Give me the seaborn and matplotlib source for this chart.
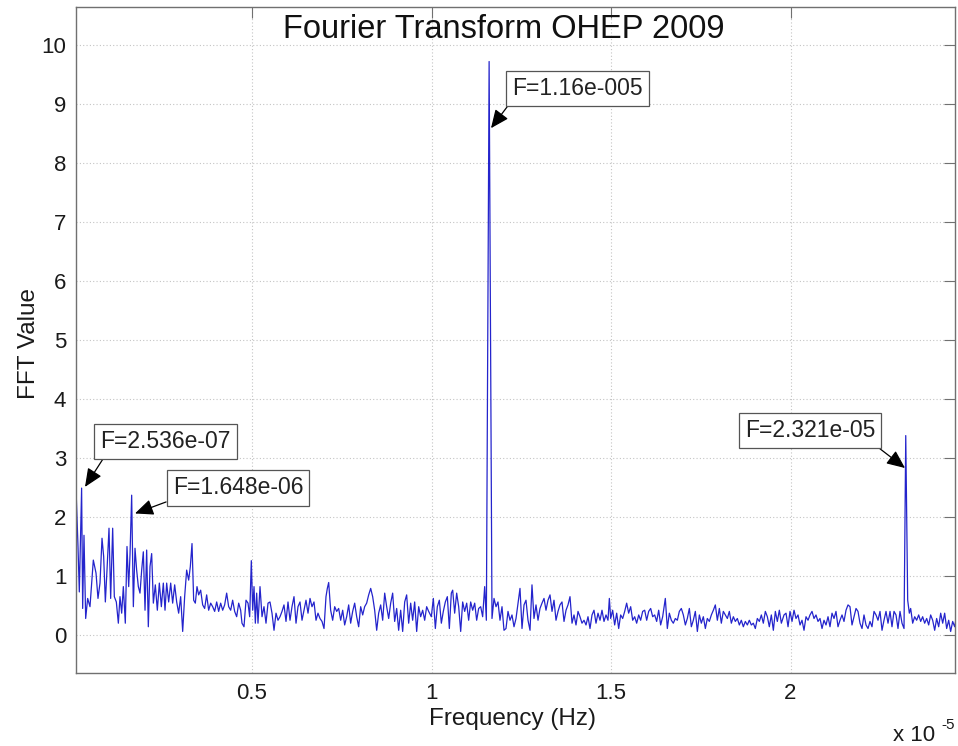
import matplotlib
matplotlib.use("Agg")
import matplotlib.pyplot as plt
import numpy as np
import pandas as pd
import seaborn as sns

# ---------------- data (frequency in units of 1e-5 Hz, FFT magnitude) ----------------
seg1_freq = [0.0097, 0.0153, 0.0190, 0.0254, 0.0283, 0.0320, 0.0367, 0.0422, 0.0487, 0.0580,
             0.0655, 0.0710, 0.0766, 0.0822, 0.0868, 0.0915, 0.0961, 0.1017, 0.1063, 0.1119,
             0.1165, 0.1221, 0.1277, 0.1323, 0.1370, 0.1416, 0.1471, 0.1518, 0.1565, 0.1602,
             0.1648, 0.1695, 0.1741, 0.1787, 0.1834, 0.1880, 0.1927, 0.1973, 0.2020, 0.2066,
             0.2112, 0.2159, 0.2205, 0.2252, 0.2307, 0.2363, 0.2419, 0.2475, 0.2530, 0.2577,
             0.2623, 0.2679, 0.2735, 0.2790, 0.2846, 0.2902, 0.2957, 0.3013, 0.3069, 0.3124,
             0.3180, 0.3236, 0.3282, 0.3329, 0.3375, 0.3421, 0.3468, 0.3514, 0.3570, 0.3626,
             0.3681, 0.3737, 0.3793, 0.3849, 0.3904, 0.3960, 0.4016, 0.4071, 0.4127, 0.4183,
             0.4238, 0.4294, 0.4350, 0.4406, 0.4461, 0.4517, 0.4573, 0.4629, 0.4684, 0.4721,
             0.4777, 0.4833]
seg1_fft = [2.50, 1.50, 0.73, 2.49, 0.45, 1.69, 0.28, 0.62, 0.48, 1.27,
            1.05, 0.62, 0.88, 1.64, 1.33, 0.56, 1.10, 1.81, 0.62, 1.81,
            0.65, 0.56, 0.20, 0.65, 0.37, 0.82, 0.20, 1.50, 0.82, 1.36,
            2.37, 0.48, 1.47, 1.10, 0.82, 0.71, 1.10, 1.41, 0.42, 1.44,
            0.14, 1.16, 1.38, 0.54, 0.85, 0.42, 0.88, 0.48, 0.88, 0.42,
            0.88, 0.56, 0.88, 0.54, 0.85, 0.56, 0.37, 0.65, 0.06, 0.65,
            1.10, 0.93, 1.16, 1.55, 0.59, 0.54, 0.82, 0.68, 0.76, 0.51,
            0.45, 0.68, 0.42, 0.54, 0.48, 0.40, 0.56, 0.40, 0.54, 0.42,
            0.51, 0.71, 0.48, 0.42, 0.59, 0.40, 0.31, 0.54, 0.42, 0.20,
            0.14, 0.59]

seg2_freq = [0.4889, 0.4935, 0.4981, 0.5019, 0.5056, 0.5093, 0.5130, 0.5167, 0.5223, 0.5279,
             0.5334, 0.5390, 0.5446, 0.5501, 0.5557, 0.5613, 0.5669, 0.5724, 0.5780, 0.5836,
             0.5891, 0.5947, 0.6003, 0.6059, 0.6114, 0.6170, 0.6226, 0.6281, 0.6337, 0.6393,
             0.6449, 0.6504, 0.6560, 0.6616, 0.6671, 0.6727, 0.6783, 0.6838, 0.6894, 0.6950,
             0.7006, 0.7061, 0.7098, 0.7136, 0.7191, 0.7247, 0.7303, 0.7359, 0.7414, 0.7470,
             0.7526, 0.7581, 0.7637, 0.7693, 0.7748, 0.7804, 0.7860, 0.7916, 0.7971, 0.8027,
             0.8083, 0.8138, 0.8194, 0.8250, 0.8306, 0.8361, 0.8417, 0.8473, 0.8528, 0.8584,
             0.8640, 0.8696, 0.8751, 0.8807, 0.8863, 0.8918, 0.8974, 0.9030, 0.9085, 0.9141,
             0.9197, 0.9253, 0.9308, 0.9364, 0.9420, 0.9475, 0.9531, 0.9587, 0.9643, 0.9698,
             0.9754, 0.9810, 0.9865, 0.9921]
seg2_fft = [0.54, 0.31, 1.26, 0.42, 0.82, 0.20, 0.71, 0.20, 0.82, 0.31,
            0.48, 0.20, 0.54, 0.56, 0.37, 0.08, 0.37, 0.25, 0.31, 0.40,
            0.51, 0.23, 0.56, 0.25, 0.48, 0.65, 0.20, 0.48, 0.56, 0.25,
            0.42, 0.59, 0.37, 0.62, 0.48, 0.56, 0.25, 0.37, 0.28, 0.23,
            0.11, 0.65, 0.79, 0.89, 0.42, 0.25, 0.48, 0.40, 0.45, 0.25,
            0.42, 0.17, 0.31, 0.51, 0.20, 0.40, 0.54, 0.31, 0.14, 0.48,
            0.34, 0.48, 0.54, 0.68, 0.79, 0.65, 0.42, 0.08, 0.37, 0.51,
            0.25, 0.71, 0.48, 0.28, 0.54, 0.71, 0.23, 0.45, 0.08, 0.42,
            0.06, 0.56, 0.68, 0.20, 0.54, 0.25, 0.56, 0.06, 0.48, 0.31,
            0.42, 0.25, 0.48, 0.40]

seg3_freq = [0.9995, 1.0051, 1.0107, 1.0162, 1.0218, 1.0274, 1.0329, 1.0385, 1.0441, 1.0497,
             1.0552, 1.0590, 1.0645, 1.0701, 1.0757, 1.0813, 1.0868, 1.0924, 1.0980, 1.1035,
             1.1091, 1.1147, 1.1203, 1.1258, 1.1314, 1.1370, 1.1425, 1.1481, 1.1528, 1.1605,
             1.1685, 1.1741, 1.1797, 1.1852, 1.1908, 1.1964, 1.2019, 1.2075, 1.2131, 1.2187,
             1.2242, 1.2298, 1.2354, 1.2409, 1.2465, 1.2521, 1.2577, 1.2632, 1.2688, 1.2744,
             1.2799, 1.2855, 1.2911, 1.2967, 1.3022, 1.3078, 1.3134, 1.3189, 1.3245, 1.3301,
             1.3357, 1.3412, 1.3468, 1.3524, 1.3579, 1.3635, 1.3691, 1.3747, 1.3802, 1.3858,
             1.3914, 1.3969, 1.4025, 1.4081, 1.4136, 1.4192, 1.4248, 1.4304, 1.4359, 1.4415,
             1.4471, 1.4526, 1.4582, 1.4638, 1.4694, 1.4749, 1.4805, 1.4861]
seg3_fft = [0.31, 0.62, 0.11, 0.48, 0.59, 0.20, 0.40, 0.56, 0.65, 0.11,
            0.71, 0.76, 0.37, 0.71, 0.48, 0.06, 0.56, 0.40, 0.54, 0.25,
            0.56, 0.42, 0.54, 0.25, 0.45, 0.48, 0.31, 0.82, 0.25, 9.72,
            0.28, 0.62, 0.48, 0.56, 0.25, 0.48, 0.08, 0.11, 0.40, 0.25,
            0.34, 0.14, 0.28, 0.54, 0.79, 0.11, 0.51, 0.59, 0.25, 0.08,
            0.85, 0.28, 0.51, 0.25, 0.45, 0.54, 0.62, 0.42, 0.59, 0.68,
            0.40, 0.59, 0.25, 0.40, 0.51, 0.56, 0.23, 0.42, 0.51, 0.65,
            0.20, 0.34, 0.17, 0.40, 0.31, 0.20, 0.25, 0.17, 0.31, 0.11,
            0.34, 0.42, 0.20, 0.37, 0.25, 0.42, 0.23, 0.34]

seg4_freq = [1.4916, 1.4954, 1.4991, 1.5046, 1.5102, 1.5158, 1.5214, 1.5269, 1.5325, 1.5381,
             1.5436, 1.5492, 1.5548, 1.5604, 1.5659, 1.5715, 1.5771, 1.5826, 1.5882, 1.5938,
             1.5994, 1.6049, 1.6105, 1.6161, 1.6216, 1.6272, 1.6328, 1.6383, 1.6439, 1.6513,
             1.6569, 1.6625, 1.6681, 1.6736, 1.6792, 1.6848, 1.6903, 1.6959, 1.7015, 1.7071,
             1.7126, 1.7182, 1.7238, 1.7293, 1.7349, 1.7405, 1.7461, 1.7516, 1.7572, 1.7628,
             1.7683, 1.7739, 1.7795, 1.7851, 1.7906, 1.7962, 1.8018, 1.8073, 1.8129, 1.8185,
             1.8241, 1.8296, 1.8352, 1.8408, 1.8463, 1.8519, 1.8575, 1.8630, 1.8686, 1.8742,
             1.8798, 1.8853, 1.8909, 1.8965, 1.9020, 1.9076, 1.9132, 1.9188, 1.9243, 1.9299,
             1.9355, 1.9410, 1.9466, 1.9522, 1.9578, 1.9633, 1.9689, 1.9745, 1.9819]
seg4_fft = [0.25, 0.62, 0.28, 0.42, 0.17, 0.37, 0.11, 0.34, 0.28, 0.40,
            0.54, 0.37, 0.48, 0.25, 0.31, 0.20, 0.34, 0.25, 0.40, 0.42,
            0.25, 0.40, 0.45, 0.31, 0.34, 0.23, 0.42, 0.17, 0.31, 0.62,
            0.11, 0.37, 0.25, 0.20, 0.28, 0.25, 0.40, 0.45, 0.34, 0.17,
            0.28, 0.45, 0.14, 0.25, 0.40, 0.06, 0.34, 0.20, 0.31, 0.11,
            0.28, 0.23, 0.34, 0.42, 0.51, 0.25, 0.45, 0.20, 0.40, 0.34,
            0.28, 0.40, 0.20, 0.31, 0.23, 0.28, 0.17, 0.25, 0.14, 0.23,
            0.17, 0.25, 0.17, 0.20, 0.11, 0.28, 0.23, 0.34, 0.20, 0.40,
            0.31, 0.14, 0.34, 0.08, 0.40, 0.23, 0.42, 0.20, 0.34]

seg5_freq = [1.9875, 1.9931, 1.9986, 2.0042, 2.0098, 2.0153, 2.0209, 2.0265, 2.0320, 2.0376,
             2.0432, 2.0488, 2.0543, 2.0599, 2.0655, 2.0710, 2.0766, 2.0822, 2.0878, 2.0933,
             2.0989, 2.1045, 2.1100, 2.1156, 2.1212, 2.1267, 2.1323, 2.1379, 2.1435, 2.1490,
             2.1546, 2.1602, 2.1657, 2.1713, 2.1769, 2.1825, 2.1880, 2.1936, 2.1992, 2.2047,
             2.2103, 2.2159, 2.2214, 2.2270, 2.2326, 2.2382, 2.2437, 2.2493, 2.2549, 2.2604,
             2.2660, 2.2716, 2.2772, 2.2827, 2.2883, 2.2939, 2.2994, 2.3050, 2.3106, 2.3162,
             2.3210, 2.3264, 2.3310, 2.3347, 2.3403, 2.3459, 2.3514, 2.3570, 2.3626, 2.3681,
             2.3737, 2.3793, 2.3849, 2.3904, 2.3960, 2.4016, 2.4071, 2.4127, 2.4183, 2.4239,
             2.4294, 2.4350, 2.4406, 2.4461, 2.4517, 2.4573, 2.4620]
seg5_fft = [0.37, 0.14, 0.40, 0.23, 0.42, 0.28, 0.34, 0.17, 0.25, 0.08,
            0.31, 0.25, 0.34, 0.40, 0.28, 0.34, 0.23, 0.28, 0.11, 0.25,
            0.17, 0.31, 0.14, 0.37, 0.28, 0.40, 0.14, 0.25, 0.34, 0.23,
            0.42, 0.51, 0.48, 0.17, 0.31, 0.45, 0.40, 0.20, 0.11, 0.34,
            0.17, 0.11, 0.23, 0.14, 0.40, 0.34, 0.25, 0.40, 0.08, 0.25,
            0.40, 0.20, 0.40, 0.14, 0.40, 0.34, 0.11, 0.40, 0.20, 0.11,
            3.38, 0.59, 0.37, 0.45, 0.20, 0.31, 0.25, 0.34, 0.23, 0.31,
            0.20, 0.28, 0.17, 0.34, 0.25, 0.08, 0.28, 0.14, 0.37, 0.20,
            0.37, 0.11, 0.25, 0.06, 0.23, 0.14, 0.30]

x_ticks = [0.5, 1.0, 1.5, 2.0]
x_tick_labels = ["0.5", "1", "1.5", "2"]
y_ticks = [0, 1, 2, 3, 4, 5, 6, 7, 8, 9, 10]

annot_labels = ["F=2.536e-07", "F=1.648e-06", "F=1.16e-005", "F=2.321e-05"]

title_text = "Fourier Transform OHEP 2009"
xlabel_text = "Frequency (Hz)"
ylabel_text = "FFT Value"

# ---------------- assemble ----------------
freq, fft = [], []
for fx, fy in [(seg1_freq, seg1_fft), (seg2_freq, seg2_fft), (seg3_freq, seg3_fft),
               (seg4_freq, seg4_fft), (seg5_freq, seg5_fft)]:
    n = min(len(fx), len(fy))
    freq += fx[:n]
    fft += fy[:n]
df = pd.DataFrame({"freq": freq, "fft": fft})

sns.set_theme(style="white")
plt.rcParams['font.family'] = ['Liberation Sans', 'DejaVu Sans']

W, H = 958, 746
fig = plt.figure(figsize=(W / 100, H / 100), dpi=100)
ax_l, ax_r, ax_t, ax_b = 76, 955, 7, 673
ax = fig.add_axes([ax_l / W, (H - ax_b) / H, (ax_r - ax_l) / W, (ax_b - ax_t) / H])

sns.lineplot(data=df, x="freq", y="fft", ax=ax, color="#2424cc", linewidth=0.9,
             estimator=None, sort=False, legend=False)

ax.set_xlim(0.00975, 2.4582)
ax.set_ylim(-0.644, 10.644)
ax.set_xticks(x_ticks)
ax.set_xticklabels(x_tick_labels)
ax.set_yticks(y_ticks)
ax.set_yticklabels([str(v) for v in y_ticks])
ax.grid(True, linestyle=(0, (1, 2)), color="#c4c4c4", linewidth=0.8)
ax.set_axisbelow(True)
ax.tick_params(direction="in", length=8, width=0.8, color="#707070", top=True, right=True,
               labelsize=16, pad=7, labelcolor="#1a1a1a")
for s in ax.spines.values():
    s.set_color("#707070")
    s.set_linewidth(1.0)

ax.set_xlabel(xlabel_text, fontsize=17.5, color="#1a1a1a")
ax.xaxis.set_label_coords(0.497, -0.053)
ax.set_ylabel(ylabel_text, fontsize=17.5, color="#1a1a1a")
ax.yaxis.set_label_coords(-0.041, 0.495)

ax.text(0.487, 0.954, title_text, transform=ax.transAxes, ha="center", va="baseline",
        fontsize=23.5, color="#111111")

fig.text(893 / W, (H - 741) / H, "x 10", fontsize=16, va="baseline", ha="left",
         color="#1a1a1a")
fig.text(941 / W, (H - 729) / H, "-5", fontsize=11, va="baseline", ha="left",
         color="#1a1a1a")

# annotation layout: arrow tips (data coords), box centres (axes fraction), arrow start on box
tips = [(0.0348, 2.51), (0.1741, 2.06), (1.1657, 8.59), (2.319, 2.83)]
boxes = [(0.1018, 0.3476), (0.1843, 0.2778), (0.5705, 0.8773), (0.835, 0.364)]
rel = [(0.05, 0.0), (0.0, 0.0), (0.0, 0.0), (0.97, 0.0)]
for lab, tip, bx, rp in zip(annot_labels, tips, boxes, rel):
    ax.annotate(lab, xy=tip, xycoords="data", xytext=bx, textcoords="axes fraction",
                ha="center", va="center", fontsize=16.5, color="#222222",
                bbox=dict(boxstyle="square,pad=0.27", fc="white", ec="#555555", lw=0.9),
                arrowprops=dict(arrowstyle="-|>,head_length=0.8,head_width=0.35",
                                color="black", lw=0.9, shrinkA=0, shrinkB=0,
                                relpos=rp, mutation_scale=14))

fig.savefig("out.png", dpi=100)
